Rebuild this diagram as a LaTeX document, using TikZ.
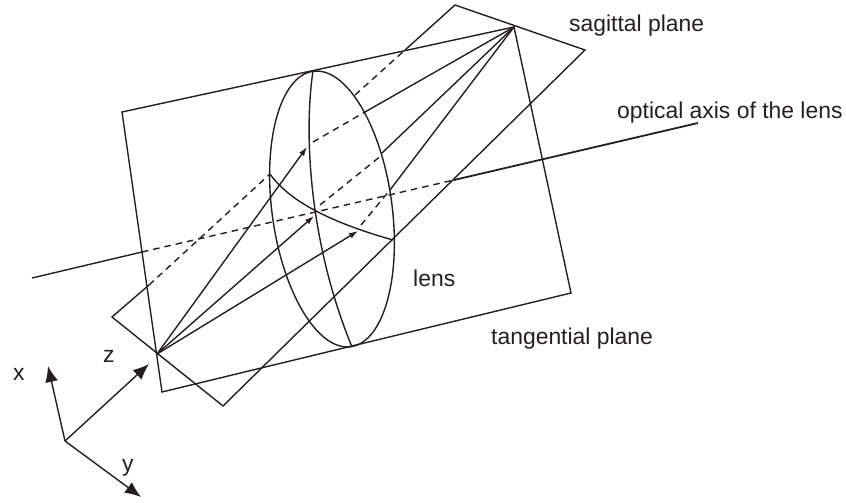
\documentclass[tikz,border=0pt]{standalone}
\usepackage{fontspec}
\setmainfont{Liberation Sans}
\usetikzlibrary{arrows.meta}
\definecolor{inkline}{RGB}{35,31,32}
\tikzset{
	planeline/.style={line width=1.4pt, color=inkline, line join=miter},
	hiddenline/.style={planeline, dash pattern=on 6.5pt off 5pt},
	rayline/.style={planeline, -{Latex[length=9pt,width=6pt]}},
	axisline/.style={planeline, -{Latex[length=16pt,width=13pt]}},
	label/.style={inner sep=0pt, text=inkline, font=\fontsize{22.9}{26}\selectfont}
}
\begin{document}
\begin{tikzpicture}[x=1pt,y=-1pt]
	\useasboundingbox (0,0) rectangle (846,503);
	% Focal points
	\coordinate (focusA) at (157,354);
	\coordinate (focusB) at (514,27);

	% Tangential plane
	\draw[planeline] (focusB) -- (122,112) -- (162,392) -- (571,293) -- cycle;

	% Sagittal plane
	\draw[planeline] (405,50) -- (455,5) -- (585,50) -- (223,406) -- (112,317) -- (149,285);
	\draw[hiddenline] (149,285) -- (270,174);
	\draw[hiddenline] (355,95) -- (405,50);

	% Optical axis
	\draw[planeline] (32,278) -- (142,252);
	\draw[hiddenline] (142,252) -- (454,180);
	\draw[planeline, line width=1.8pt] (454,180) -- (698,123);

	% Lens
	\draw[planeline, rotate around={7.8:(332,209)}] (332,209) ellipse (60 and 139);
	\draw[planeline] (313,71) .. controls (304,130) and (308,240) .. (352,347);
	\draw[planeline] (270,174) .. controls (292,205) and (340,225) .. (393,240);

	% Rays
	\draw[rayline] (focusA) -- (307,147);
	\draw[rayline] (focusA) -- (314,216);
	\draw[rayline] (focusA) -- (358,231);
	\draw[hiddenline] (313,142) -- (365,112);
	\draw[hiddenline] (320,205) -- (382,155);
	\draw[hiddenline] (361,225) -- (390,190);
	\draw[planeline] (365,112) -- (focusB);
	\draw[planeline] (382,153) -- (focusB);
	\draw[planeline] (390,190) -- (focusB);

	% Axes
	\coordinate (origin) at (65,441);
	\draw[axisline] (origin) -- (48,366);
	\draw[axisline] (origin) -- (149,364);
	\draw[axisline] (origin) -- (141,497);

	% Labels
	\node[label, anchor=base west] (sagittal) at (569,32) {sagittal plane};
	\node[label, anchor=base west] (axisname) at (617,118) {optical axis of the lens};
	\node[label, anchor=base west] (lens) at (413,286) {lens};
	\node[label, anchor=base west] (tangential) at (491,344) {tangential plane};
	\node[label, anchor=base west] (xlabel) at (13,380) {x};
	\node[label, anchor=base west] (ylabel) at (122,471) {y};
	\node[label, anchor=base west] (zlabel) at (103,362) {z};
\end{tikzpicture}
\end{document}
